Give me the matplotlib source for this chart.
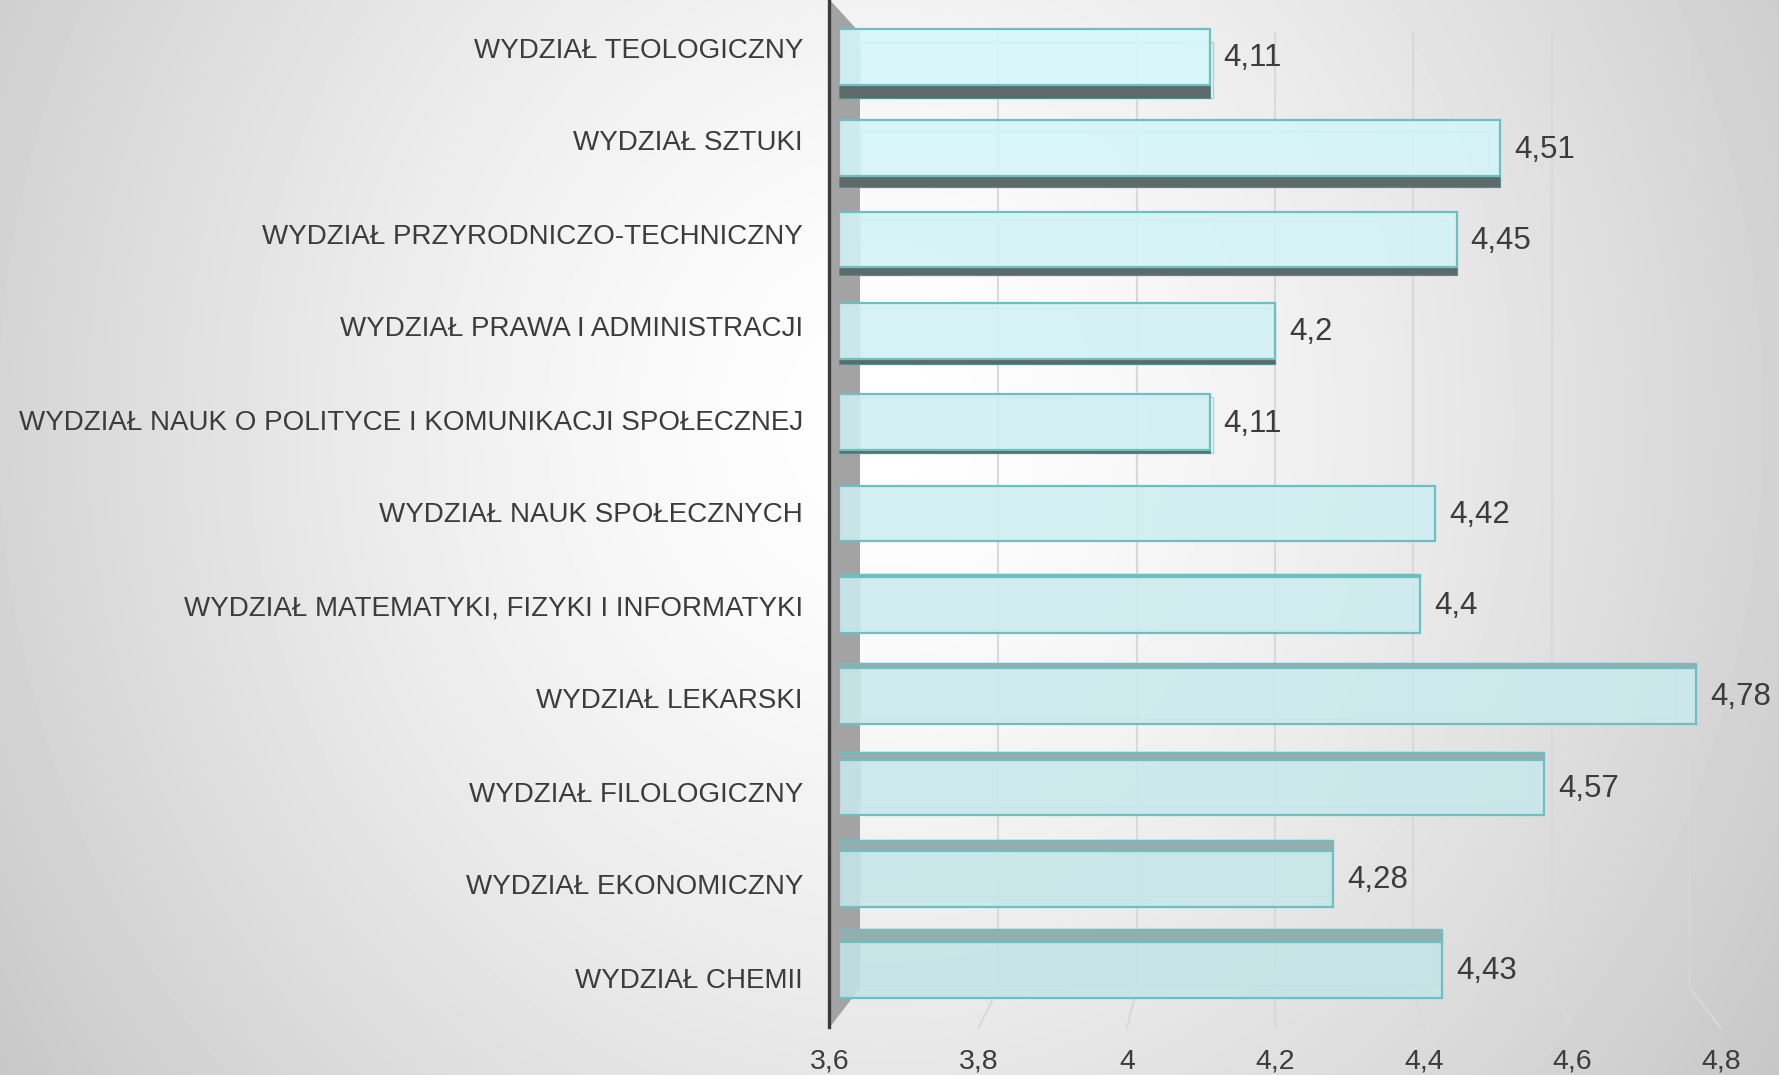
import numpy as np
import matplotlib
matplotlib.use("Agg")
import matplotlib.pyplot as plt
import matplotlib.transforms as mtransforms
from matplotlib.colors import to_rgb
from matplotlib.patches import Polygon, ConnectionPatch
from matplotlib.lines import Line2D

wydzialy = [
    "WYDZIAŁ TEOLOGICZNY",
    "WYDZIAŁ SZTUKI",
    "WYDZIAŁ PRZYRODNICZO-TECHNICZNY",
    "WYDZIAŁ PRAWA I ADMINISTRACJI",
    "WYDZIAŁ NAUK O POLITYCE I KOMUNIKACJI SPOŁECZNEJ",
    "WYDZIAŁ NAUK SPOŁECZNYCH",
    "WYDZIAŁ MATEMATYKI, FIZYKI I INFORMATYKI",
    "WYDZIAŁ LEKARSKI",
    "WYDZIAŁ FILOLOGICZNY",
    "WYDZIAŁ EKONOMICZNY",
    "WYDZIAŁ CHEMII",
]
oceny = [4.11, 4.51, 4.45, 4.2, 4.11, 4.42, 4.4, 4.78, 4.57, 4.28, 4.43]
osie = [3.6, 3.8, 4.0, 4.2, 4.4, 4.6, 4.8]
osie_txt = ["3,6", "3,8", "4", "4,2", "4,4", "4,6", "4,8"]

plt.rcParams["font.family"] = ["Liberation Sans", "DejaVu Sans"]
tekst = "#3c3c3c"
brzeg = "#6cc0c4"

W, H = 1779, 1075
fig = plt.figure(figsize=(W / 100, H / 100), dpi=100)


def box(x0, x1, y0, y1):
    # pixel box (top-left origin) -> figure fraction
    return [x0 / W, 1 - y1 / H, (x1 - x0) / W, (y1 - y0) / H]


def fx(x, y):
    return (x / W, 1 - y / H)


# background: soft radial grey gradient
ax_bg = fig.add_axes([0, 0, 1, 1], zorder=-5)
gx, gy = np.meshgrid(np.arange(W), np.arange(H))
r = np.sqrt(((gx - 880) / 1000.0) ** 2 + ((gy - 420) / 1100.0) ** 2)
tlo = np.clip(1 - 0.2 * r ** 1.4, 0, 1)
ax_bg.imshow(tlo, cmap="gray", vmin=0, vmax=1, aspect="auto", extent=[0, W, H, 0])
ax_bg.set_axis_off()

n = len(oceny)
idx = np.arange(n)
rzad = 91.3
y0 = 57 - rzad / 2
y1 = y0 + n * rzad
h = 0.61

# back wall (gridlines + back faces of the bars)
ax_back = fig.add_axes(box(860, 1690, y0, y1), zorder=0)
ax_back.set_xlim(3.6, 4.8)
ax_back.set_ylim(n - 0.5, -0.5)
ax_back.set_axis_off()
g_top = (y1 - 33) / (y1 - y0)
g_bot = (y1 - 988) / (y1 - y0)
for v in osie[1:]:
    ax_back.plot([v, v], [g_bot, g_top], color="#d9d9d9", lw=1.5,
                 transform=ax_back.get_xaxis_transform())

# front plane with the bars
ax = fig.add_axes(box(839, 1711, y0, y1), zorder=2)
ax.set_xlim(3.6, 4.8)
ax.set_ylim(n - 0.5, -0.5)
ax.set_axis_off()

# floor axis with tick labels
ax_floor = fig.add_axes(box(830, 1721, 1027, 1028), zorder=1)
ax_floor.set_xlim(3.6, 4.8)
ax_floor.patch.set_visible(False)
for s in ax_floor.spines.values():
    s.set_visible(False)
ax_floor.set_yticks([])
ax_floor.set_xticks(osie, osie_txt)
ax_floor.tick_params(axis="x", length=0, pad=15, labelsize=20.5, labelcolor=tekst)

for v in osie[1:]:
    fig.add_artist(ConnectionPatch(xyA=(v, g_bot), coordsA=ax_back.get_xaxis_transform(),
                                   xyB=(v, 0), coordsB=ax_floor.get_xaxis_transform(),
                                   color="#d9d9d9", lw=1.5, zorder=0.5))

# side wall at 3.6
fig.add_artist(Polygon([fx(830, 0), fx(860, 33), fx(860, 988), fx(830, 1027)],
                       closed=True, transform=fig.transFigure, facecolor="#a3a3a3",
                       edgecolor="none", zorder=1))
fig.add_artist(Line2D([829 / W, 829 / W], [1, 1 - 1027 / H], color="#3c3c3c", lw=2.4,
                      transform=fig.transFigure, zorder=1.5))

# bar colors from top (lighter) to bottom
c_gora = np.array(to_rgb("#d6f7fa"))
c_dol = np.array(to_rgb("#c5e4e6"))
kolory = [tuple(c_gora + (c_dol - c_gora) * i / (n - 1)) + (0.88,) for i in idx]

szer = [v - 3.6 for v in oceny]
for i, v in enumerate(oceny):
    off = 13 * (5 - i) / 5 / rzad
    if abs(off) < 1e-9:
        continue
    if off > 0:
        ax.barh(i + h / 2 + off / 2, v - 3.6, left=3.6, height=off,
                color="#5e6a69", edgecolor="#4f8f92", lw=0.8, zorder=2)
    else:
        ax.barh(i - h / 2 + off / 2, v - 3.6, left=3.6, height=-off,
                color="#94adad", edgecolor=brzeg, lw=1.0, zorder=2)
    ax_back.barh(i + off, v - 3.6, left=3.6, height=h, facecolor="none",
                 edgecolor="#8fd0d3", lw=1.0, alpha=0.8)

ax.barh(idx, szer, left=3.6, height=h, color=kolory, edgecolor=brzeg, lw=1.6, zorder=3)

for i, v in enumerate(oceny):
    ax.annotate(f"{v:g}".replace(".", ","), (v, i), xytext=(10, -1),
                textcoords="offset points", ha="left", va="center",
                fontsize=22.5, color=tekst, zorder=4)

# category labels
ax_lab = fig.add_axes(box(0, 803, 4, 1027), zorder=1)
ax_lab.set_ylim(n - 0.5, -0.5)
ax_lab.set_axis_off()
tr = mtransforms.blended_transform_factory(ax_lab.transAxes, ax_lab.transData)
for i, nazwa in enumerate(wydzialy):
    ax_lab.text(1.0, i, nazwa, transform=tr, ha="right", va="center",
                fontsize=20, color=tekst)

fig.savefig("out.png", dpi=100)
